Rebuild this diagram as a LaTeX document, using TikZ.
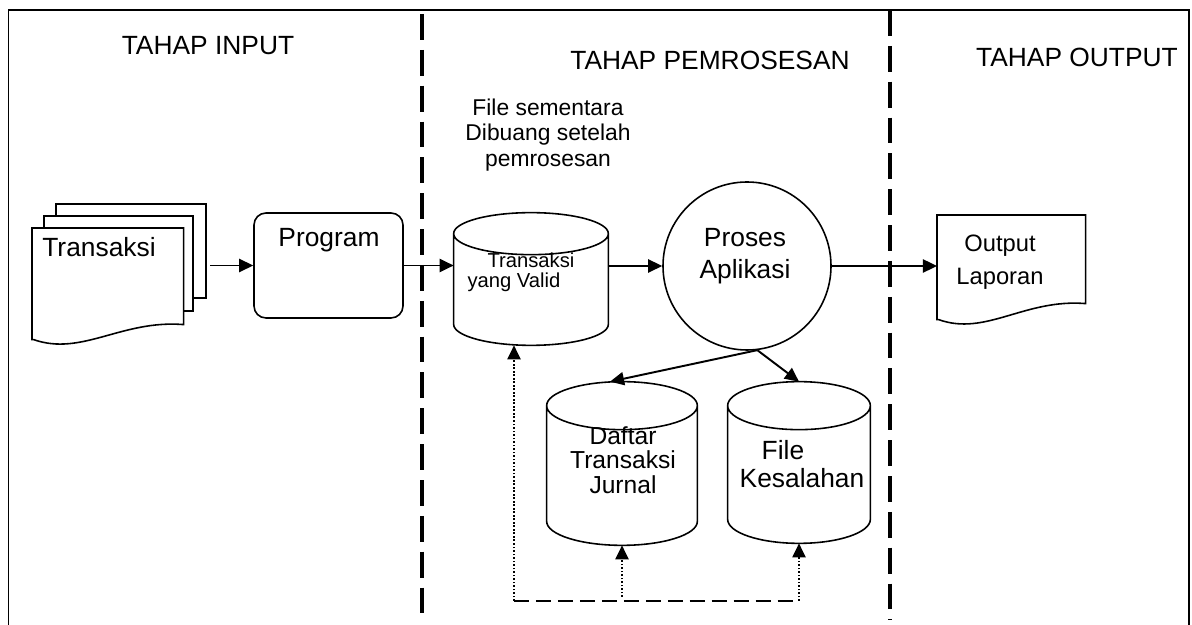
\documentclass[tikz,border=0pt]{standalone}
\usepackage{fontspec}
\setmainfont{Liberation Sans}
\usetikzlibrary{arrows.meta,calc}

\begin{document}
\begin{tikzpicture}[
  shapeline/.style={draw,line width=0.9pt},
  page/.style={shapeline,fill=white,minimum width=3cm,minimum height=1.9cm,inner sep=0pt},
  drum/.style={inner sep=0pt},
  flow/.style={line width=1.1pt,-{Triangle[length=8pt,width=7.5pt]}},
  back/.style={line width=1pt,dash pattern=on 1pt off 1pt,-{Triangle[length=8pt,width=7.5pt]}},
  phase/.style={line width=2.2pt,dash pattern=on 14.7pt off 5.7pt},
  lbl/.style={inner sep=0pt,align=center},
]
 \useasboundingbox (0,0) rectangle (23.84,12.5);
 \draw[line width=0.8pt] (0.17,0) -- (0.17,12.3) -- (23.78,12.3) -- (23.78,0);
 \draw[phase] (8.44,12.22) -- (8.44,0.1);
 \draw[phase] (17.8,12.3) -- (17.8,0.1);

 \node[lbl,font=\fontsize{15}{18}\selectfont] (tinput) at (4.16,11.58) {TAHAP INPUT};
 \node[lbl,font=\fontsize{15}{18}\selectfont] (tproses) at (14.2,11.3) {TAHAP PEMROSESAN};
 \node[lbl,font=\fontsize{15}{18}\selectfont] (toutput) at (21.54,11.36) {TAHAP OUTPUT};
 \node[lbl,font=\fontsize{13}{14.7}\selectfont] (note) at (10.96,9.8) {File sementara\\Dibuang setelah\\pemrosesan};

 % input documents
 \node[page,minimum height=1.88cm] (page3) at (2.62,7.48) {};
 \node[page,minimum width=2.98cm] (page2) at (2.37,7.23) {};
 \node[page,draw=none,fill=none,anchor=north west] (page1) at (0.64,7.94) {};
 \draw[shapeline,fill=white] ([yshift=-0.3cm]page1.south west) -- (page1.north west) -- (page1.north east)
   -- (page1.south east) .. controls +(-1.24,0.1) and +(0.96,-0.34) .. +(-3,-0.3) -- cycle;
 \node[lbl,font=\fontsize{15}{18}\selectfont] (transtxt) at (1.98,7.56) {Transaksi};

 \node[shapeline,rounded corners=0.24cm,minimum width=2.98cm,minimum height=2.1cm] (prog) at (6.57,7.19) {};
 \node[lbl,font=\fontsize{15}{18}\selectfont] (progtxt) at (6.58,7.7) {Program};

 \node[drum,minimum width=3.08cm,minimum height=2.64cm] (valid) at (10.62,6.92) {};
 \node[lbl,align=left,font=\fontsize{11.5}{11.5}\selectfont] (validtxt) at (10.42,7.06) {\hspace*{0.4cm}Transaksi\\yang Valid};

 \node[shapeline,circle,minimum size=3.36cm] (proc) at (14.94,7.18) {};
 \node[lbl,font=\fontsize{15}{18}\selectfont] (proctxt) at (14.9,7.38) {Proses\\Aplikasi};

 % output document
 \node[page,draw=none,fill=none,anchor=north west,minimum width=2.94cm,minimum height=1.74cm] (outdoc) at (18.74,8.2) {};
 \draw[shapeline] ([yshift=-0.32cm]outdoc.south west) -- (outdoc.north west) -- (outdoc.north east)
   -- (outdoc.south east) .. controls +(-1.22,0.1) and +(0.94,-0.34) .. +(-2.94,-0.32) -- cycle;
 \node[lbl,font=\fontsize{13.5}{18.7}\selectfont] (outtxt) at (20.0,7.26) {Output\\Laporan};

 \node[drum,minimum width=3cm,minimum height=3.26cm] (daftar) at (12.44,3.23) {};
 \node[lbl,font=\fontsize{14}{14}\selectfont] (daftartxt) at (12.46,3.3) {Daftar\\Transaksi\\Jurnal};
 \node[drum,minimum width=2.84cm,minimum height=3.22cm] (kesal) at (15.98,3.25) {};
 \node[lbl,align=left,font=\fontsize{15}{16.4}\selectfont] (kesaltxt) at (16.04,3.22) {\hspace*{0.44cm}File\\Kesalahan};

 % cylinder outlines
 \foreach \d/\r in {valid/0.42,daftar/0.48,kesal/0.48}
   \draw[shapeline] let \p1=(\d.north west), \p2=(\d.south east), \n1={(\x2-\x1)/2} in
     (\x1,\y1-\r*1cm) -- (\x1,\y2+\r*1cm)
     arc[start angle=180,end angle=360,x radius=\n1,y radius=\r cm] -- (\x2,\y1-\r*1cm)
     (\x1+\n1,\y1-\r*1cm) ellipse[x radius=\n1,y radius=\r cm];

 % flow
 \draw[flow] ([xshift=2pt]page3.east |- prog.west) -- (prog.west);
 \draw[flow] (prog.east) -- (prog.east -| valid.west);
 \draw[flow] (valid.east |- proc.west) -- (proc.west);
 \draw[flow] (proc.east) -- (proc.east -| outdoc.west);
 \draw[flow] (proc.-83) -- ([xshift=-0.24cm]daftar.north);
 \draw[flow] (proc.-83) -- (kesal.north);

 % feedback
 \coordinate (loopL) at (10.28,0.48);
 \coordinate (loopR) at (kesal.south |- loopL);
 \draw[line width=1.1pt,dash pattern=on 8.5pt off 4pt] (loopL) -- (loopR);
 \draw[back] (loopL) -- (loopL |- valid.south);
 \draw[back] ([yshift=0.08cm]daftar.south |- loopL) -- (daftar.south);
 \draw[back] (loopR) -- (kesal.south);
\end{tikzpicture}
\end{document}
